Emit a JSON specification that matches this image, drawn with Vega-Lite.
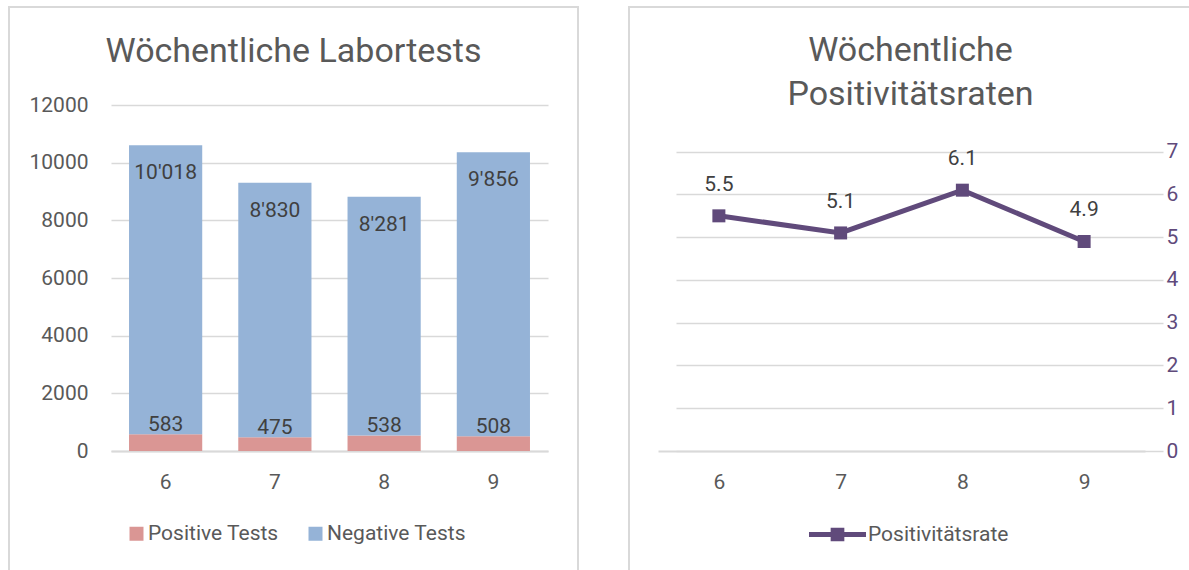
{
  "$schema": "https://vega.github.io/schema/vega-lite/v6.json",
  "padding": {"left": 8, "top": 6, "right": 0, "bottom": 0},
  "spacing": 49,
  "resolve": {"scale": {"color": "independent"}, "legend": {"color": "independent"}},
  "config": {
    "font": "Roboto",
    "locale": {"number": {"decimal": ".", "thousands": "'", "grouping": [3], "currency": ["", ""]}},
    "view": {"stroke": "#D9D9D9", "strokeWidth": 2},
    "axis": {"labelFont": "Roboto", "labelFontSize": 21, "labelColor": "#595959", "gridColor": "#D9D9D9", "gridWidth": 1.5, "ticks": false, "tickSize": 0, "domain": false, "title": null},
    "title": {"font": "Roboto", "fontSize": 34, "fontWeight": "normal", "color": "#595959", "anchor": "middle", "frame": "group", "baseline": "alphabetic"}
  },
  "datasets": {
    "tests": [
      {"week": 6, "type": "Positive Tests", "count": 583},
      {"week": 6, "type": "Negative Tests", "count": 10018},
      {"week": 7, "type": "Positive Tests", "count": 475},
      {"week": 7, "type": "Negative Tests", "count": 8830},
      {"week": 8, "type": "Positive Tests", "count": 538},
      {"week": 8, "type": "Negative Tests", "count": 8281},
      {"week": 9, "type": "Positive Tests", "count": 508},
      {"week": 9, "type": "Negative Tests", "count": 9856}
    ],
    "rate": [
      {"week": 6, "series": "Positivitätsrate", "rate": 5.5},
      {"week": 7, "series": "Positivitätsrate", "rate": 5.1},
      {"week": 8, "series": "Positivitätsrate", "rate": 6.1},
      {"week": 9, "series": "Positivitätsrate", "rate": 4.9}
    ]
  },
  "hconcat": [
    {
      "width": 569,
      "height": 564,
      "title": {"text": "Wöchentliche Labortests", "offset": -62},
      "data": {"name": "tests"},
      "transform": [
        {"stack": "count", "groupby": ["week"], "sort": [{"field": "type", "order": "descending"}], "as": ["y0", "y1"]}
      ],
      "encoding": {
        "x": {
          "field": "week", "type": "ordinal",
          "scale": {"range": [102, 539], "paddingInner": 0.33, "paddingOuter": 0.165},
          "axis": {"labelAngle": 0, "offset": -120, "domain": true, "domainColor": "#D9D9D9", "domainWidth": 2, "labelPadding": 20, "labelBaseline": "top"}
        },
        "y": {
          "field": "y1", "type": "quantitative",
          "scale": {"domain": [0, 12000], "range": [444, 98], "nice": false, "zero": true},
          "axis": {"values": [0, 2000, 4000, 6000, 8000, 10000, 12000], "format": "d", "offset": -79, "labelPadding": 0, "grid": true}
        }
      },
      "layer": [
        {
          "mark": {"type": "bar"},
          "encoding": {
            "y2": {"field": "y0"},
            "color": {
              "field": "type", "type": "nominal",
              "scale": {"domain": ["Positive Tests", "Negative Tests"], "range": ["#DA9694", "#95B3D7"]},
              "legend": {"orient": "none", "legendX": 117, "legendY": 516, "direction": "horizontal", "title": null, "symbolType": "square", "symbolSize": 196, "symbolStrokeWidth": 0, "labelFontSize": 21, "labelColor": "#595959", "labelOffset": 1, "columnPadding": 26, "padding": 0}
            }
          }
        },
        {
          "transform": [{"filter": "datum.type === 'Negative Tests'"}],
          "mark": {"type": "text", "baseline": "middle", "dy": 28, "fontSize": 21, "color": "#404040"},
          "encoding": {"text": {"field": "count", "type": "quantitative", "format": ","}}
        },
        {
          "transform": [{"filter": "datum.type === 'Positive Tests'"}],
          "mark": {"type": "text", "baseline": "alphabetic", "dy": -3, "fontSize": 21, "color": "#404040"},
          "encoding": {"text": {"field": "count", "type": "quantitative", "format": ","}}
        }
      ]
    },
    {
      "width": 563,
      "height": 564,
      "title": {"text": ["Wöchentliche", "Positivitätsraten"], "offset": -105, "lineHeight": 44},
      "data": {"name": "rate"},
      "encoding": {
        "x": {
          "field": "week", "type": "ordinal",
          "scale": {"type": "point", "range": [29, 516], "padding": 0.5},
          "axis": {"labelAngle": 0, "offset": -120, "domain": true, "domainColor": "#D9D9D9", "domainWidth": 2, "labelPadding": 20, "labelBaseline": "top"}
        },
        "y": {
          "field": "rate", "type": "quantitative",
          "scale": {"domain": [0, 7], "range": [444, 144.7], "nice": false},
          "axis": {"orient": "right", "values": [0, 1, 2, 3, 4, 5, 6, 7], "offset": -26, "labelPadding": 0, "labelColor": "#604A7B", "labelAlign": "left", "grid": true}
        }
      },
      "layer": [
        {
          "mark": {"type": "line", "strokeWidth": 5},
          "encoding": {
            "color": {
              "field": "series", "type": "nominal",
              "scale": {"domain": ["Positivitätsrate"], "range": ["#604A7B"]},
              "legend": {
                "orient": "none", "legendX": 180, "legendY": 499, "title": null,
                "symbolType": "M-1,-0.088L1,-0.088L1,0.088L-1,0.088Z M-0.24,-0.24L0.24,-0.24L0.24,0.24L-0.24,0.24Z",
                "symbolSize": 3249, "symbolFillColor": "#604A7B", "symbolStrokeWidth": 0,
                "labelFontSize": 21, "labelColor": "#595959", "labelOffset": 2, "padding": 0,
                "encode": {"symbols": {"update": {
                  "fill": {"value": "#604A7B"},
                  "stroke": {"value": "transparent"},
                  "strokeWidth": {"value": 0},
                  "opacity": {"value": 1},
                  "shape": {"value": "M-1,-0.088L1,-0.088L1,0.088L-1,0.088Z M-0.24,-0.24L0.24,-0.24L0.24,0.24L-0.24,0.24Z"},
                  "size": {"value": 3249}
                }}}
              }
            }
          }
        },
        {
          "mark": {"type": "point", "shape": "square", "size": 169, "filled": true, "opacity": 1, "color": "#604A7B"}
        },
        {
          "mark": {"type": "text", "baseline": "alphabetic", "dy": -25, "fontSize": 21, "color": "#404040"},
          "encoding": {"text": {"field": "rate", "type": "quantitative", "format": ".1f"}}
        }
      ]
    }
  ]
}
